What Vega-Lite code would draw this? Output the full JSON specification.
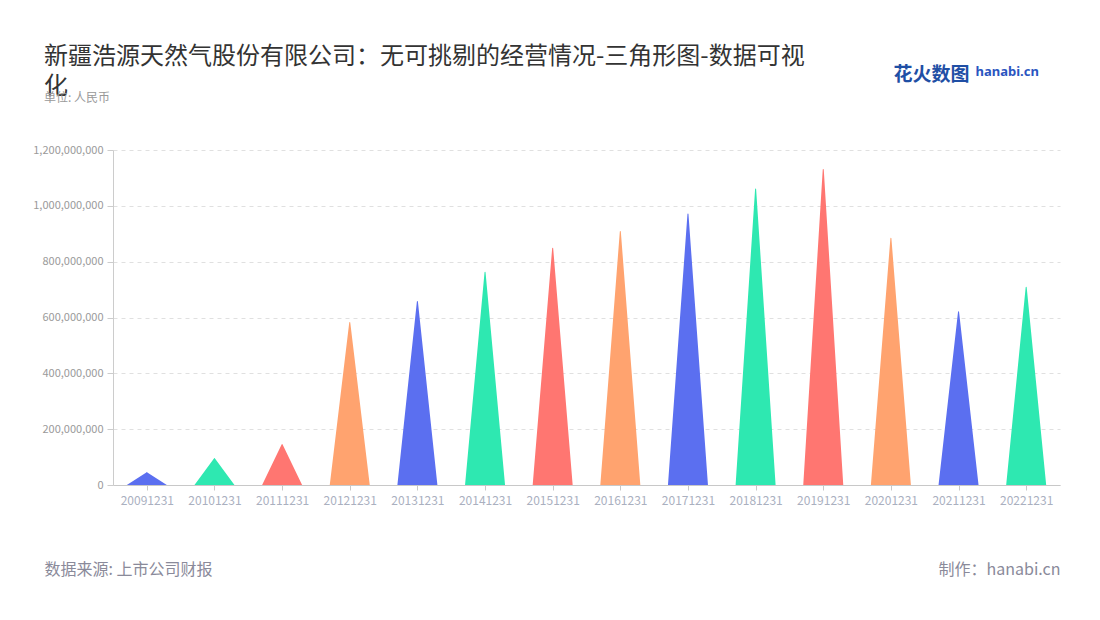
{
  "$schema": "https://vega.github.io/schema/vega-lite/v6.json",
  "width": 947,
  "height": 335,
  "autosize": {"type": "none"},
  "padding": {"left": 113, "top": 150, "right": 40, "bottom": 135},
  "background": "white",
  "config": {
    "view": {"stroke": null},
    "font": "Noto Sans CJK SC"
  },
  "title": {
    "text": ["新疆浩源天然气股份有限公司：无可挑剔的经营情况-三角形图-数据可视", "化"],
    "subtitle": "单位: 人民币",
    "anchor": "start",
    "frame": "group",
    "dx": -69,
    "offset": -39,
    "font": "Noto Sans CJK SC",
    "fontSize": 24,
    "fontWeight": "normal",
    "color": "#333333",
    "lineHeight": 30,
    "subtitleFont": "Noto Sans CJK SC",
    "subtitleFontSize": 12,
    "subtitleColor": "#999999",
    "subtitlePadding": -6
  },
  "data": {
    "values": [
      {"date": "20091231", "value": 45000000},
      {"date": "20101231", "value": 95000000},
      {"date": "20111231", "value": 145000000},
      {"date": "20121231", "value": 582000000},
      {"date": "20131231", "value": 657000000},
      {"date": "20141231", "value": 762000000},
      {"date": "20151231", "value": 848000000},
      {"date": "20161231", "value": 908000000},
      {"date": "20171231", "value": 971000000},
      {"date": "20181231", "value": 1060000000},
      {"date": "20191231", "value": 1130000000},
      {"date": "20201231", "value": 884000000},
      {"date": "20211231", "value": 621000000},
      {"date": "20221231", "value": 708000000}
    ]
  },
  "transform": [
    {"calculate": "0", "as": "base"},
    {"fold": ["base", "value"], "as": ["k", "v"]}
  ],
  "layer": [
    {
      "mark": {"type": "trail", "clip": true},
      "encoding": {
        "x": {
          "field": "date",
          "type": "ordinal",
          "scale": {"type": "point", "padding": 0.5},
          "axis": {
            "labelAngle": 0,
            "labelFontSize": 12,
            "labelColor": "#aab0bf",
            "labelPadding": 5,
            "domainColor": "#c8c8c8",
            "tickColor": "#c8c8c8",
            "tickSize": 5,
            "grid": false,
            "title": "数据来源: 上市公司财报",
            "titleX": -69,
            "titleY": 89,
            "titleAlign": "left",
            "titleBaseline": "alphabetic",
            "titleFontSize": 16,
            "titleFontWeight": "normal",
            "titleColor": "#8a8a9a"
          }
        },
        "y": {
          "field": "v",
          "type": "quantitative",
          "scale": {"domain": [0, 1200000000]},
          "axis": {
            "values": [0, 200000000, 400000000, 600000000, 800000000, 1000000000, 1200000000],
            "format": ",d",
            "labelFontSize": 11,
            "labelColor": "#9a9a9a",
            "labelPadding": 4,
            "tickColor": "#cccccc",
            "tickSize": 6,
            "domainColor": "#cccccc",
            "gridColor": "#e0e0e0",
            "gridDash": [4, 4],
            "title": "制作：hanabi.cn",
            "titleAngle": 0,
            "titleX": 947,
            "titleY": 424,
            "titleAlign": "right",
            "titleBaseline": "alphabetic",
            "titleFontSize": 16,
            "titleFontWeight": "normal",
            "titleColor": "#8a8a9a"
          }
        },
        "size": {
          "field": "v",
          "type": "quantitative",
          "scale": {"domain": [0, 1], "range": [40, 0], "clamp": true},
          "legend": null
        },
        "color": {
          "field": "date",
          "type": "nominal",
          "scale": {"range": ["#5b6ff0", "#2ee8b1", "#ff7671", "#ffa36f"]},
          "legend": null
        },
        "order": {"field": "v", "type": "quantitative"}
      }
    },
    {
      "mark": {"type": "point", "opacity": 0},
      "encoding": {
        "x": {
          "field": "date",
          "type": "ordinal",
          "scale": {"type": "point", "padding": 0.5},
          "axis": {
            "orient": "top",
            "labels": false,
            "ticks": false,
            "domain": false,
            "grid": false,
            "title": "hanabi.cn",
            "titleX": 862,
            "titleY": -75,
            "titleAlign": "left",
            "titleBaseline": "alphabetic",
            "titleFontSize": 13,
            "titleFontWeight": "bold",
            "titleColor": "#2a55c0",
            "titleFont": "Noto Sans"
          }
        },
        "y": {
          "field": "v",
          "type": "quantitative",
          "scale": {"domain": [0, 1200000000]},
          "axis": {
            "orient": "right",
            "labels": false,
            "ticks": false,
            "domain": false,
            "grid": false,
            "title": "花火数图",
            "titleAngle": 0,
            "titleX": -167,
            "titleY": -70,
            "titleAlign": "left",
            "titleBaseline": "alphabetic",
            "titleFontSize": 19,
            "titleFontWeight": "bold",
            "titleColor": "#1f4fa5"
          }
        }
      }
    }
  ],
  "resolve": {"scale": {"x": "independent", "y": "independent"}}
}
